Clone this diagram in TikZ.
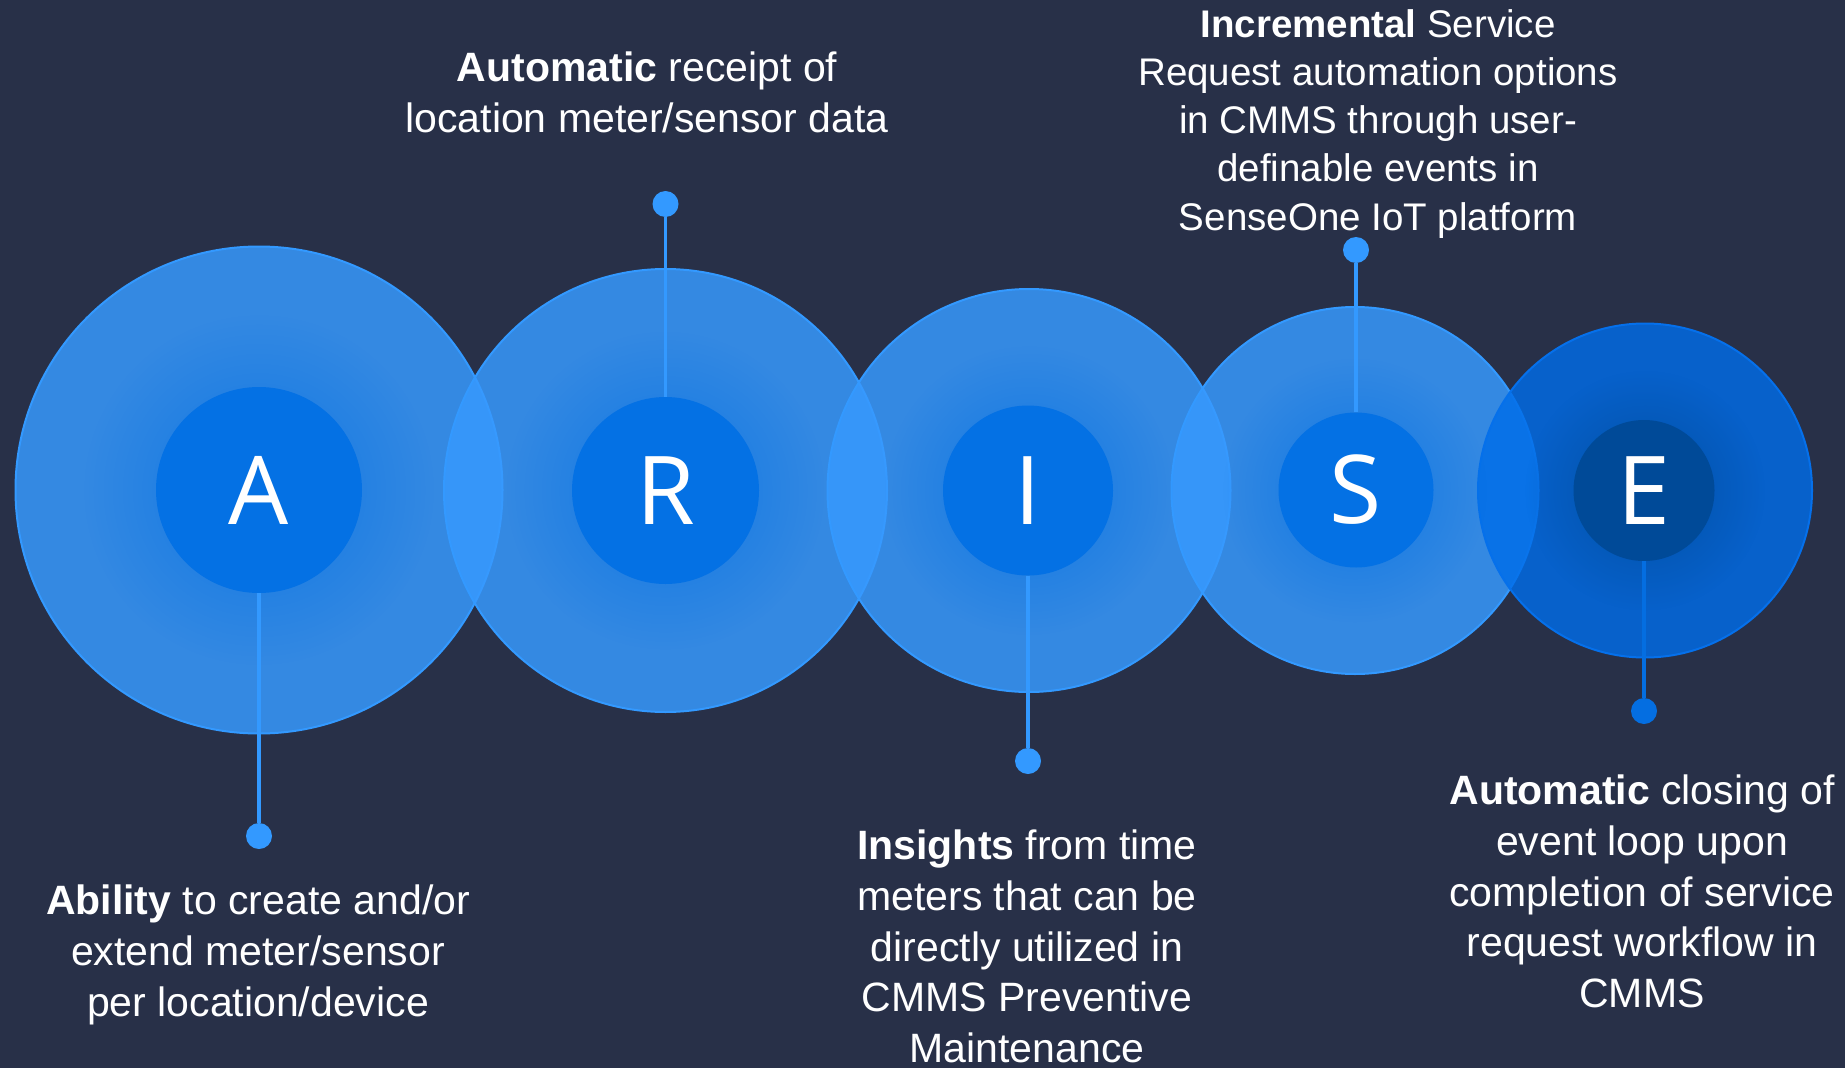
\documentclass[tikz,border=0pt]{standalone}
\usepackage{fontspec}
\setmainfont{Liberation Sans}
\newfontfamily\letterfont{Open Sans}
\usetikzlibrary{fadings}
\definecolor{navy}{RGB}{40,48,72}
\definecolor{ringblue}{RGB}{55,153,254}
\definecolor{ringedge}{RGB}{51,153,255}
\definecolor{coreblue}{RGB}{4,113,228}
\definecolor{linkblue}{RGB}{51,153,255}
\definecolor{eblue}{RGB}{0,109,233}
\definecolor{eedge}{RGB}{5,112,235}
\definecolor{ecore}{RGB}{0,74,152}
\definecolor{elink}{RGB}{4,110,225}
\tikzfading[name=glowfade, inner color=transparent!25, outer color=transparent!100]

\begin{document}
\begin{tikzpicture}[x=1pt,y=-1pt]

\tikzstyle{ring}=[circle,draw=ringedge,line width=2pt,fill=ringblue,fill opacity=0.85,inner sep=0pt]
\tikzstyle{glow}=[circle,fill=coreblue,path fading=glowfade,inner sep=0pt]
\tikzstyle{core}=[circle,fill=coreblue,inner sep=0pt,text=white,
                  font=\letterfont\fontsize{95}{95}\selectfont]
\tikzstyle{pin}=[circle,fill=linkblue,minimum size=26pt,inner sep=0pt]
\tikzstyle{link}=[draw=linkblue,line width=3.5pt]
\tikzstyle{lab}=[align=center,anchor=north,text=white,inner sep=0pt,
                 font=\fontsize{41}{50.6}\selectfont]

  \fill[navy] (0,0) rectangle (1845,1068);
  \useasboundingbox (0,0) rectangle (1845,1068);

  % big rings
  \node[ring,minimum size=487pt] (ringA) at (259,490) {};
  \node[ring,minimum size=443pt] (ringR) at (665.5,490.5) {};
  \node[ring,minimum size=403pt] (ringI) at (1029,490.5) {};
  \node[ring,minimum size=367pt] (ringS) at (1355,490.5) {};
  \node[ring,minimum size=334pt,draw=eedge,fill=eblue,fill opacity=0.82] (ringE) at (1645,490.5) {};

  \node[glow,minimum size=350pt] (glowA) at (ringA) {};
  \node[glow,minimum size=318pt] (glowR) at (ringR) {};
  \node[glow,minimum size=289pt] (glowI) at (ringI) {};
  \node[glow,minimum size=264pt] (glowS) at (ringS) {};
  \node[glow,minimum size=240pt,fill=ecore] (glowE) at (ringE) {};

  \node[pin] (dotA) at (259,836) {};
  \node[pin] (dotR) at (665.5,204) {};
  \node[pin] (dotI) at (1028,761) {};
  \node[pin] (dotS) at (1356,250) {};
  \node[pin,fill=elink] (dotE) at (1644,711) {};

  \node[core,minimum size=206pt] (A) at (259,490) {A};
  \node[core,minimum size=187pt] (R) at (665.5,490.5) {R};
  \node[core,minimum size=170pt] (I) at (1028,490.5) {I};
  \node[core,minimum size=155pt] (S) at (1356,490) {S};
  \node[core,minimum size=141pt,fill=ecore] (E) at (1644,490.5) {E};

  \draw[link] (A) -- (dotA);
  \draw[link] (R) -- (dotR);
  \draw[link] (I) -- (dotI);
  \draw[link] (S) -- (dotS);
  \draw[link,draw=elink] (E) -- (dotE);

  \node[lab] (labA) at (258,885) {\textbf{Ability} to create and/or\\ extend meter/sensor\\ per location/device};
  \node[lab] (labR) at (647,52) {\textbf{Automatic} receipt of\\ location meter/sensor data};
  \node[lab] (labI) at (1027,830) {\textbf{Insights} from time\\ meters that can be\\ directly utilized in\\
                                   CMMS Preventive\\ Maintenance};
  \node[lab,font=\fontsize{38.5}{48.3}\selectfont] (labS) at (1378,9)
       {\textbf{Incremental} Service\\ Request automation options\\ in CMMS through user-\\
        definable events in\\ SenseOne IoT platform};
  \node[lab] (labE) at (1642,775) {\textbf{Automatic} closing of\\ event loop upon\\ completion of service\\
                                   request workflow in\\ CMMS};

\end{tikzpicture}
\end{document}
